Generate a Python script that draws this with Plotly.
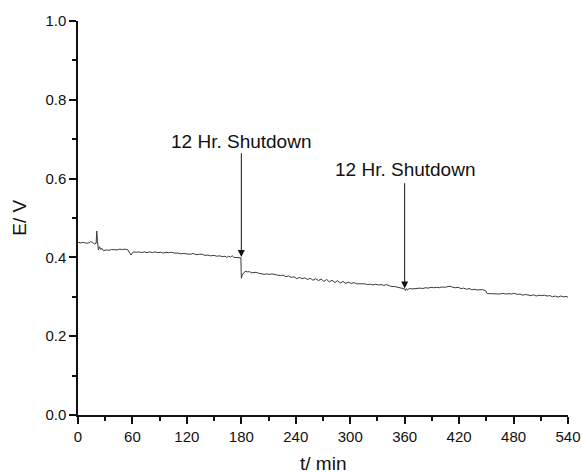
import plotly.graph_objects as go

t_min = [0, 3, 6, 9, 12, 14, 16, 18, 20, 20.7, 21.5, 22.5, 23.7, 25, 26.5, 28, 31, 34, 37, 40, 43, 46, 49, 52, 55,
         57, 58.5, 60, 61, 64, 67, 70, 73, 76, 79, 82, 85, 88, 91, 94, 97, 100, 103, 106, 110, 113, 116, 120, 124,
         127, 130, 134, 137, 140, 143, 146, 150, 153, 156, 159, 162, 164, 166, 168, 170, 172, 175, 177, 179.5,
         180, 181, 183, 185, 187, 189, 191, 193, 196, 199, 202, 205, 208, 211, 214, 217, 220, 223, 226, 229, 232,
         235, 238, 241, 244, 247, 250, 253, 256, 259, 262, 265, 268, 271, 274, 277, 280, 283, 286, 289, 292, 295,
         298, 301, 304, 307, 310, 313, 316, 319, 322, 325, 328, 331, 334, 337, 340, 343, 346, 349, 352, 355, 358,
         360, 361, 362, 363, 365, 368, 371, 374, 377, 380, 383, 386, 389, 392, 395, 398, 401, 404, 407, 410, 413,
         416, 419, 422, 425, 428, 431, 434, 437, 440, 443, 446, 449, 451, 455, 460, 465, 468, 471, 475, 478, 481,
         484, 487, 490, 493, 496, 499, 502, 505, 508, 511, 514, 517, 520, 523, 526, 529, 532, 535, 538, 540]
E_V = [0.438, 0.437, 0.438, 0.436, 0.437, 0.440, 0.438, 0.434, 0.436, 0.467, 0.440, 0.419, 0.427, 0.420, 0.423,
       0.417, 0.419, 0.418, 0.420, 0.420, 0.419, 0.421, 0.420, 0.421, 0.419,
       0.411, 0.406, 0.411, 0.414, 0.413, 0.414, 0.412, 0.414, 0.412, 0.414, 0.412, 0.414, 0.412, 0.413, 0.411,
       0.413, 0.412, 0.413, 0.411, 0.411, 0.409, 0.410, 0.409, 0.408,
       0.410, 0.407, 0.408, 0.408, 0.405, 0.406, 0.404, 0.405, 0.403, 0.404, 0.402, 0.403, 0.400, 0.403, 0.401,
       0.404, 0.400, 0.399, 0.400, 0.399,
       0.347, 0.355, 0.362, 0.365, 0.363, 0.364, 0.361, 0.362, 0.362, 0.360, 0.359, 0.357, 0.358, 0.357, 0.358,
       0.356, 0.355, 0.354, 0.355, 0.351, 0.353,
       0.349, 0.351, 0.346, 0.349, 0.346, 0.348, 0.344, 0.347, 0.342, 0.346, 0.341, 0.345, 0.339, 0.344, 0.338,
       0.342, 0.336, 0.341, 0.335, 0.339, 0.334,
       0.337, 0.334, 0.336, 0.333, 0.333, 0.332, 0.333, 0.331, 0.332, 0.330, 0.332, 0.330, 0.331, 0.329, 0.331,
       0.328, 0.326, 0.326, 0.324, 0.323, 0.321,
       0.320, 0.316, 0.321, 0.317, 0.321, 0.320, 0.321, 0.321, 0.322, 0.321, 0.323, 0.322, 0.324, 0.323, 0.324,
       0.323, 0.325, 0.324, 0.326, 0.327, 0.324,
       0.323, 0.324, 0.321, 0.322, 0.319, 0.321, 0.318, 0.319, 0.317, 0.318, 0.318, 0.316, 0.308, 0.308, 0.308,
       0.307, 0.309, 0.307, 0.308, 0.307, 0.309,
       0.306, 0.307, 0.304, 0.306, 0.305, 0.303, 0.305, 0.302, 0.304, 0.303, 0.304, 0.302, 0.303, 0.300, 0.302,
       0.299, 0.302, 0.300, 0.301, 0.299]

x_ticks = [0, 60, 120, 180, 240, 300, 360, 420, 480, 540]
y_ticks = [0.0, 0.2, 0.4, 0.6, 0.8, 1.0]

# annotations: arrow x, arrow tip y, arrow tail y, label y, label text
shut_t = [180, 360]
shut_tip = [0.401, 0.321]
shut_tail = [0.668, 0.592]
label_y = [0.694, 0.622]
label_text = ["12 Hr. Shutdown", "12 Hr. Shutdown"]

FONT = "Liberation Sans, Arial, sans-serif"

fig = go.Figure()
fig.add_trace(go.Scatter(x=t_min, y=E_V, mode="lines",
                         line=dict(color="#3a3a3a", width=1), showlegend=False))

annotations = []
for i in range(len(shut_t)):
    annotations.append(dict(x=shut_t[i], y=shut_tip[i], ax=shut_t[i], ay=shut_tail[i],
                            xref="x", yref="y", axref="x", ayref="y", text="",
                            showarrow=True, arrowhead=2, arrowsize=1.4, arrowwidth=1,
                            arrowcolor="#111111", standoff=0))
    annotations.append(dict(x=shut_t[i], y=label_y[i], xref="x", yref="y", text=label_text[i],
                            showarrow=False, font=dict(family=FONT, size=19, color="#111111")))

# axis titles
annotations.append(dict(x=0.5, y=-0.122, xref="paper", yref="paper", text="t/ min", showarrow=False,
                        yanchor="middle", font=dict(family=FONT, size=19, color="#111111")))
annotations.append(dict(x=-0.121, y=0.5, xref="paper", yref="paper", text="E/ V", showarrow=False,
                        textangle=-90, xanchor="center", font=dict(family=FONT, size=19, color="#111111")))

fig.update_layout(
    width=582, height=473,
    margin=dict(l=78, r=14, t=21, b=58, autoexpand=False),
    paper_bgcolor="white", plot_bgcolor="white",
    font=dict(family=FONT, size=15, color="#111111"),
    annotations=annotations,
    xaxis=dict(range=[0, 540], tickvals=x_ticks, ticks="outside", ticklen=7, tickwidth=1.5,
               tickcolor="#111111", showline=True, linecolor="#111111", linewidth=1.5,
               showgrid=False, zeroline=False, automargin=False,
               minor=dict(dtick=30, tick0=0, ticks="outside", ticklen=4, tickwidth=1.5, tickcolor="#111111"),
               tickfont=dict(size=15)),
    yaxis=dict(range=[0, 1], tickvals=y_ticks, tickformat=".1f", ticks="outside", ticklen=7, tickwidth=1.5,
               tickcolor="#111111", showline=True, linecolor="#111111", linewidth=1.5,
               showgrid=False, zeroline=False, automargin=False,
               minor=dict(dtick=0.1, tick0=0, ticks="outside", ticklen=4, tickwidth=1.5, tickcolor="#111111"),
               tickfont=dict(size=15)),
)

fig.write_html("out.html", config={"displayModeBar": False},
               post_script="document.body.style.margin='0';document.body.style.overflow='hidden';")
